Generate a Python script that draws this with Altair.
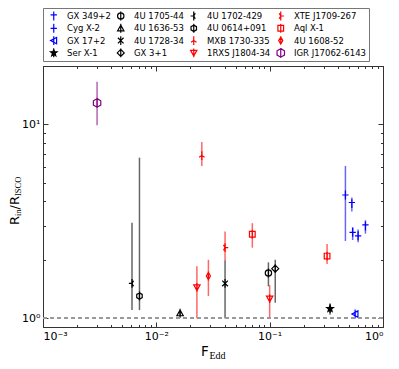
import math
import altair as alt
import pandas as pd

# ---------------- data ----------------
names = [
    "IGR J17062-6143", "4U 1702-429", "4U 0614+091", "4U 1636-53",
    "1RXS J1804-34", "MXB 1730-335", "4U 1608-52", "4U 1728-34",
    "XTE J1709-267", "Aql X-1", "4U 1705-44", "1RXS J1804-34",
    "GX 3+1", "Aql X-1", "Ser X-1", "Cyg X-2", "GX 349+2",
    "Cyg X-2", "Cyg X-2", "GX 349+2", "GX 17+2",
]
fedd = [0.0030, 0.0061, 0.0071, 0.0162, 0.0228, 0.0252, 0.0288, 0.0404,
        0.0404, 0.0703, 0.0975, 0.100, 0.112, 0.321, 0.341, 0.466, 0.531,
        0.540, 0.603, 0.700, 0.567]
rin = [12.9, 1.51, 1.30, 1.06, 1.44, 6.9, 1.65, 1.51, 2.31, 2.71, 1.71,
       1.26, 1.80, 2.09, 1.12, 4.32, 3.90, 2.77, 2.66, 2.99, 1.05]
rin_lo = [9.9, 1.10, 1.10, 1.03, 1.00, 6.1, 1.30, 1.00, 1.99, 2.31, 1.46,
          1.00, 1.20, 1.90, 1.04, 2.50, 3.55, 2.53, 2.46, 2.73, 1.03]
rin_hi = [16.6, 3.11, 6.73, 1.09, 1.85, 8.1, 2.00, 1.99, 2.80, 3.09, 1.94,
          1.48, 2.00, 2.41, 1.19, 6.10, 4.19, 2.95, 2.87, 3.20, 1.07]

# legend as in the reference (column by column)
legend_cols = [
    ["GX 349+2", "Cyg X-2", "GX 17+2", "Ser X-1"],
    ["4U 1705-44", "4U 1636-53", "4U 1728-34", "GX 3+1"],
    ["4U 1702-429", "4U 0614+091", "MXB 1730-335", "1RXS J1804-34"],
    ["XTE J1709-267", "Aql X-1", "4U 1608-52", "IGR J17062-6143"],
]

x_major = [0.001, 0.01, 0.1, 1]
x_minor = [m * d for d in [0.001, 0.01, 0.1] for m in range(2, 10)]
y_major = [1, 10]
y_minor = [2, 3, 4, 5, 6, 7, 8, 9, 20]

# ---------------- styles ----------------
V = "M0,-1.4L0,1.4"
star_pts = []
for k in range(10):
    r = 1.1 if k % 2 == 0 else 0.45
    a = math.radians(-90 + 36 * k)
    star_pts.append(f"{r*math.cos(a):.3f},{r*math.sin(a):.3f}")
STAR = "M" + "L".join(star_pts) + "Z" + V
HEX = "M0,-1L0.866,-0.5L0.866,0.5L0,1L-0.866,0.5L-0.866,-0.5Z" + V
HEXB = "M0,-1.35L1.17,-0.675L1.17,0.675L0,1.35L-1.17,0.675L-1.17,-0.675Z" + "M0,-1.6L0,1.6"

BLUE, BLACK, RED, PURPLE = "#0000ff", "#000000", "#ff0000", "#800080"
style = {
    # name: (color, path, filled)
    "GX 349+2": (BLUE, "M-1,-0.35L1,-0.35" + V, False),
    "Cyg X-2": (BLUE, "M-1,0L1,0" + V, False),
    "GX 17+2": (BLUE, "M-1,0L0.9,-1L0.9,1Z" + V, False),
    "Ser X-1": (BLACK, STAR, True),
    "4U 1705-44": (BLACK, "M1,0A1,1,0,1,1,-1,0A1,1,0,1,1,1,0Z" + V, False),
    "4U 1636-53": (BLACK, "M0,-1L1,0.8L-1,0.8Z" + V, False),
    "4U 1728-34": (BLACK, "M-0.9,-0.9L0.9,0.9M-0.9,0.9L0.9,-0.9" + V, False),
    "GX 3+1": (BLACK, "M0,-1.1L1.1,0L0,1.1L-1.1,0Z" + V, False),
    "4U 1702-429": (BLACK, "M0,0L-1,0M0,0L0.5,-0.87M0,0L0.5,0.87" + V, False),
    "4U 0614+091": (BLACK, HEX, False),
    "MXB 1730-335": (RED, "M0,0L-0.87,0.5M0,0L0.87,0.5" + V, False),
    "1RXS J1804-34": (RED, "M0,1L1,-0.8L-1,-0.8Z" + V, False),
    "XTE J1709-267": (RED, "M0,0L1,0M0,0L-0.5,-0.87M0,0L-0.5,0.87" + V, False),
    "Aql X-1": (RED, "M-0.9,-0.9L0.9,-0.9L0.9,0.9L-0.9,0.9Z" + V, False),
    "4U 1608-52": (RED, "M0,-1.1L0.65,0L0,1.1L-0.65,0Z" + V, False),
    "IGR J17062-6143": (PURPLE, HEXB, False),
}

# Vega fills legend grids row by row
order = [legend_cols[c][r] for r in range(4) for c in range(4)]

df = pd.DataFrame({"name": names, "fedd": fedd, "rin": rin,
                   "lo": rin_lo, "hi": rin_hi})

W, H = 340, 261
FONT = "DejaVu Sans"
SUBFONT = "Liberation Serif"

xscale = alt.Scale(type="log", domain=[0.001, 1], nice=False)
yscale = alt.Scale(type="log", domain=[0.9, 20], nice=False)

legend = alt.Legend(
    title=None, orient="top", offset=4, columns=4,
    columnPadding=2, rowPadding=2.3, padding=3, clipHeight=10,
    labelFont=FONT, labelFontSize=8.5, labelColor="black",
    symbolOffset=3.5, labelOffset=9,
    strokeColor="#777777", fillColor="white",
    symbolStrokeWidth=1.2, symbolSize=40,
)
color_enc = alt.Color("name:N", scale=alt.Scale(domain=order, range=[style[n][0] for n in order]), legend=legend)
shape_enc = alt.Shape("name:N", scale=alt.Scale(domain=order, range=[style[n][1] for n in order]), legend=legend)
fill_enc = alt.Fill("name:N", scale=alt.Scale(domain=order, range=[style[n][0] if style[n][2] else "transparent" for n in order]), legend=legend)


def axis(orient, values, tick, labels=False, expr=None, pad=0):
    kw = dict(orient=orient, values=values, tickSize={"expr": str(-tick)},
              labels=labels, grid=False, title=None, domainColor="#333333",
              tickColor="#333333", domainWidth=1, tickWidth=1)
    if labels:
        kw.update(labelExpr=expr, labelFont=FONT, labelFontSize=11,
                  labelColor="black", labelPadding=pad)
    return alt.Axis(**kw)


xlab = ("datum.value < 0.005 ? '10⁻³' : datum.value < 0.05 ? '10⁻²' : "
        "datum.value < 0.5 ? '10⁻¹' : '10⁰'")
ylab = "datum.value < 5 ? '10⁰' : '10¹'"

base = alt.Chart(df)

pts = base.mark_point(filled=False, strokeWidth=1.2, opacity=1, size=40).encode(
    x=alt.X("fedd:Q", scale=xscale, axis=axis("bottom", x_major, 5, True, xlab, 8)),
    y=alt.Y("rin:Q", scale=yscale, axis=axis("left", y_major, 5, True, ylab, 8)),
    color=color_enc, shape=shape_enc, fill=fill_enc,
)

err = base.mark_rule(strokeWidth=1.5, opacity=0.6).encode(
    x=alt.X("fedd:Q", scale=xscale, axis=axis("bottom", x_minor, 2.5)),
    y=alt.Y("lo:Q", scale=yscale, axis=axis("left", y_minor, 2.5)),
    y2="hi:Q",
    stroke=alt.Stroke("name:N", scale=alt.Scale(domain=order, range=[style[n][0] for n in order]), legend=None),
)

top1 = base.mark_point(opacity=0).encode(
    x=alt.X("fedd:Q", scale=xscale, axis=axis("top", x_major, 5)),
    y=alt.Y("rin:Q", scale=yscale, axis=axis("right", y_major, 5)),
)
top2 = base.mark_point(opacity=0).encode(
    x=alt.X("fedd:Q", scale=xscale, axis=axis("top", x_minor, 2.5)),
    y=alt.Y("rin:Q", scale=yscale, axis=axis("right", y_minor, 2.5)),
)

dash = base.mark_rule(color="#999999", strokeDash=[4, 3], strokeWidth=1).encode(
    y=alt.Y(datum=1, scale=yscale, axis=None),
)


def txt(s, x, y, size, font, angle=0):
    return alt.Chart(alt.Data(values=[{"t": s}])).mark_text(
        align="left", baseline="alphabetic", fontSize=size, font=font,
        color="black", angle=angle,
    ).encode(x=alt.value(x), y=alt.value(y), text="t:N")


titles = [
    txt("F", 158, 290, 13.5, FONT),
    txt("Edd", 166.5, 292.5, 10, SUBFONT),
    txt("R", -24, 159, 13, FONT, 270),
    txt("in", -22.5, 150, 8.5, SUBFONT, 270),
    txt("/R", -24, 143.4, 13, FONT, 270),
    txt("ISCO", -22.5, 130, 8.5, SUBFONT, 270),
]

chart = alt.layer(pts, err, dash, top1, top2, *titles).resolve_axis(
    x="independent", y="independent"
).properties(
    width=W, height=H, autosize="none",
    padding={"left": 35, "top": 58, "right": 8, "bottom": 34},
).configure_view(stroke=None)

chart.save("out.html", embed_options={"renderer": "svg", "actions": False})
